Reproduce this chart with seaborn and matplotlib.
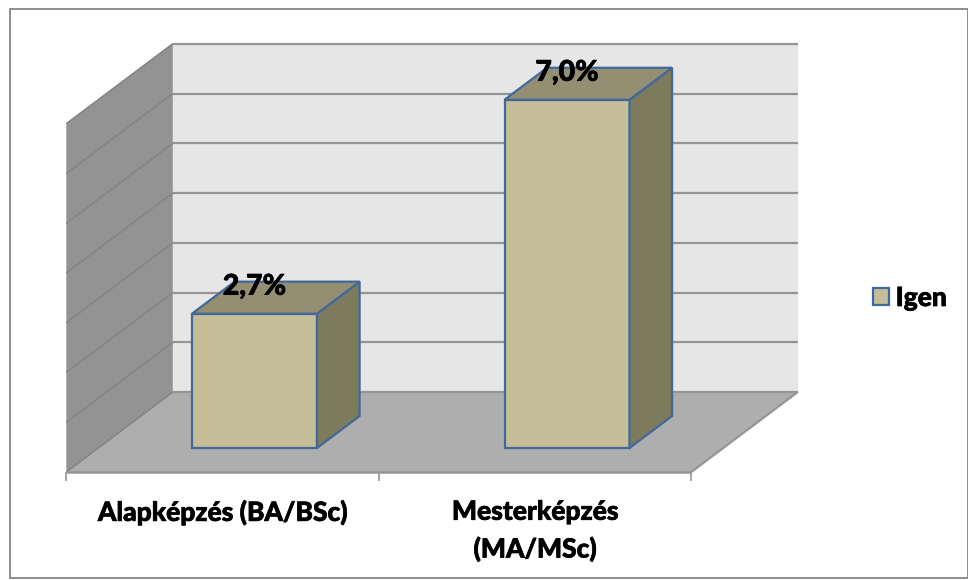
import matplotlib
matplotlib.use("Agg")
import matplotlib.pyplot as plt
import matplotlib.patheffects as pe
import pandas as pd
import seaborn as sns
from matplotlib.patches import Polygon, Rectangle

categories = ["Alapképzés (BA/BSc)", "Mesterképzés\n(MA/MSc)"]
values = [2.7, 7.0]
series_name = "Igen"
grid_levels = [0, 1, 2, 3, 4, 5, 6, 7]

W, H = 968, 580
PX_X, PX_Y = 312.5, 49.75      # pixels per category / per percent
X0_PX, Y0_PX = 254.5, 448.0    # pixel position of first bar centre / bar baseline
DEPTH_X, DEPTH_Y = 106.5 / PX_X, 80 / PX_Y   # oblique shift of the whole floor depth
BAR_D0, BAR_D1 = 0.3, 0.7      # depth range taken by bars
BAR_WIDTH = 125 / PX_X

FACE, TOP, SIDE, EDGE = "#C4BD97", "#948F72", "#7E7A5D", "#41689A"
WALL, LEFT, FLOOR, LINE = "#E6E6E6", "#939393", "#AEAEAE", "#959595"
FONT = "Lato"
WEIGHT = 900
BOLDER = [pe.withStroke(linewidth=0.5, foreground="black")]

sns.set_theme(style="white")
plt.rcParams["font.family"] = [FONT, "DejaVu Sans"]
plt.rcParams["font.weight"] = WEIGHT
plt.rcParams["text.color"] = "black"


def proj(x, v, d):
    return x + (d - BAR_D0) * DEPTH_X, v + (d - BAR_D0) * DEPTH_Y


fig = plt.figure(figsize=(W / 100, H / 100), dpi=100, facecolor="white")
ax = fig.add_axes([0, 0, 1, 1])
df = pd.DataFrame({"cat": categories, "val": values})
sns.barplot(data=df, x="cat", y="val", ax=ax, color=FACE, saturation=1,
            width=BAR_WIDTH, edgecolor=EDGE, linewidth=1.6, zorder=4, errorbar=None)
ax.set_xlim(-X0_PX / PX_X, (W - X0_PX) / PX_X)
ax.set_ylim((Y0_PX - H) / PX_Y, Y0_PX / PX_Y)
ax.set_xlabel("")
ax.set_ylabel("")
ax.set_xticks([])
ax.set_yticks([])
for s in ax.spines.values():
    s.set_visible(False)
ax.patch.set_alpha(0)

xl, xr = -0.5, 1.5
vtop = grid_levels[-1]
def poly(pts, **kw):
    ax.add_patch(Polygon(pts, closed=True, **kw))

poly([proj(xl, 0, 1), proj(xr, 0, 1), proj(xr, vtop, 1), proj(xl, vtop, 1)], fc=WALL, ec="none", zorder=1)
poly([proj(xl, 0, 0), proj(xl, 0, 1), proj(xl, vtop, 1), proj(xl, vtop, 0)], fc=LEFT, ec="none", zorder=1)
poly([proj(xl, 0, 0), proj(xr, 0, 0), proj(xr, 0, 1), proj(xl, 0, 1)], fc=FLOOR, ec="none", zorder=1.5)

def seg(a, b, lw=1.5, c=LINE, z=2):
    ax.plot([a[0], b[0]], [a[1], b[1]], color=c, lw=lw, zorder=z, solid_capstyle="butt")

for v in grid_levels:
    seg(proj(xl, v, 1), proj(xr, v, 1), lw=1.6)
    seg(proj(xl, v, 0), proj(xl, v, 1), lw=1.2, c="#858585")
seg(proj(xl, 0, 0), proj(xr, 0, 0), lw=1.8, z=2.5)
seg(proj(xr, 0, 0), proj(xr, 0, 1), lw=1.6, z=2.5)

# Side and top faces of each bar, derived from the bar drawn by seaborn
for p, v in zip(ax.patches[:len(values)], values):
    x0, x1 = p.get_x(), p.get_x() + p.get_width()
    side = [proj(x1, 0, BAR_D0), proj(x1, 0, BAR_D1), proj(x1, v, BAR_D1), proj(x1, v, BAR_D0)]
    top = [proj(x0, v, BAR_D0), proj(x1, v, BAR_D0), proj(x1, v, BAR_D1), proj(x0, v, BAR_D1)]
    poly(side, fc=SIDE, ec=EDGE, lw=1.6, zorder=4, joinstyle="miter")
    poly(top, fc=TOP, ec=EDGE, lw=1.6, zorder=4, joinstyle="miter")
    ax.annotate(f"{v:.1f}%".replace(".", ","), (p.get_x() + p.get_width() / 2, v),
                xytext=(0, 27 * 0.72), textcoords="offset points", ha="center", va="center",
                fontsize=20.5, fontweight=WEIGHT, color="black", zorder=6, path_effects=BOLDER)

# Category axis on the front edge of the floor
shift = -(0 - BAR_D0) * DEPTH_X
sec = ax.secondary_xaxis((H - 472) / H, functions=(lambda x: x + shift, lambda x: x - shift))
sec.set_xticks([-0.5, 0.5, 1.5], labels=["", "", ""])
sec.set_xticks(range(len(categories)), labels=categories, minor=True)
sec.tick_params(axis="x", which="major", length=6.5, width=1.2, color=LINE, direction="out")
sec.tick_params(axis="x", which="minor", length=0, pad=20, labelsize=19, labelcolor="black")
for t in sec.get_xticklabels(minor=True):
    t.set_fontweight(WEIGHT)
    t.set_linespacing(1.6)
    t.set_path_effects(BOLDER)
sec.spines["bottom"].set_visible(False)

handles = [Rectangle((0, 0), 1, 1, fc=FACE, ec=EDGE, lw=1.6)]
leg = fig.legend(handles, [series_name], loc="center left",
                 bbox_to_anchor=(849 / W, 1 - 298 / H), frameon=False,
                 handlelength=0.62, handleheight=0.62, handletextpad=0.25,
                 labelcolor="black",
                 prop={"family": [FONT], "weight": WEIGHT, "size": 19})
for t in leg.get_texts():
    t.set_path_effects(BOLDER)

fig.add_artist(Rectangle((9.5 / W, 1 - 577.5 / H), 958 / W, 569 / H, transform=fig.transFigure,
                         fc="none", ec="#868686", lw=1.3))
fig.savefig("out.png", dpi=100)
